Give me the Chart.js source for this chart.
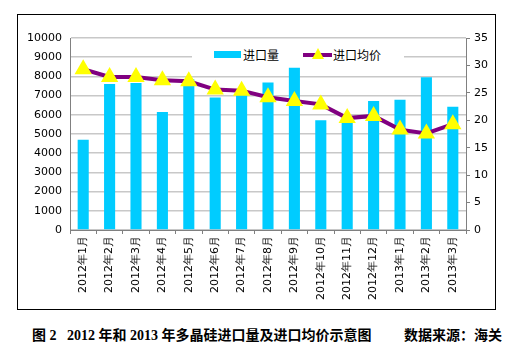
<!DOCTYPE html>
<html lang="zh">
<head>
<meta charset="UTF-8">
<title>多晶硅进口量及进口均价</title>
<script src="https://cdn.jsdelivr.net/npm/chart.js"></script>
<style>
  body { margin: 0; width: 532px; height: 352px; background: #fff; position: relative; overflow: hidden;
         font-family: "Noto Sans CJK SC", "DejaVu Sans", sans-serif; }
  .frame { position: absolute; left: 17px; top: 14px; width: 477px; height: 294px; border: 1px solid #000; }
  .frame canvas { display: block; }
  .legend { position: absolute; left: 192px; top: 46px; width: 212px; height: 17px; background: #fff;
            font-size: 12px; color: #000; display: flex; align-items: center; }
  .sw-bar { display: inline-block; width: 27px; height: 7px; background: #00CCFF; margin: 0 2px 0 22px; }
  .sw-line { display: inline-block; position: relative; width: 29px; height: 4px; background: #800080; margin: 0 1px 0 24px; }
  .sw-line:after { content: ""; position: absolute; left: 9px; top: -5px; border-left: 6px solid transparent;
                   border-right: 6px solid transparent; border-bottom: 11px solid #ffff00; }
  .caption { position: absolute; top: 324px; left: 32px; width: 470px; font-weight: bold; font-size: 14px;
             font-family: "Liberation Serif", "Noto Sans CJK SC", serif; white-space: pre; }
  .caption span.src { position: absolute; right: 0; top: 0; }
</style>
</head>
<body>
<div class="frame"><canvas id="c" width="477" height="294"></canvas></div>
<div class="legend"><span class="sw-bar"></span>进口量<span class="sw-line"></span>进口均价</div>
<div class="caption">图 2   2012 年和 2013 年多晶硅进口量及进口均价示意图<span class="src">数据来源：海关</span></div>
<script>
const months = ["2012年1月","2012年2月","2012年3月","2012年4月","2012年5月","2012年6月","2012年7月","2012年8月",
                "2012年9月","2012年10月","2012年11月","2012年12月","2013年1月","2013年2月","2013年3月"];
const importVolume = [4700, 7600, 7650, 6150, 7850, 6900, 7070, 7680, 8450, 5720, 5750, 6720, 6780, 7960, 6420];
const importPrice = [29.3, 27.9, 27.9, 27.3, 27.1, 25.6, 25.4, 24.2, 23.5, 22.9, 20.4, 20.8, 18.3, 17.6, 19.3];
const leftTicks = [0, 1000, 2000, 3000, 4000, 5000, 6000, 7000, 8000, 9000, 10000];
const rightTicks = [0, 5, 10, 15, 20, 25, 30, 35];

const tickFont = { family: "DejaVu Sans", size: 11 };

new Chart(document.getElementById('c'), {
  data: {
    labels: months,
    datasets: [
      {
        type: 'line', label: '进口均价', data: importPrice, yAxisID: 'y1',
        borderColor: '#800080', borderWidth: 4, tension: 0,
        pointStyle: 'triangle', pointRadius: 6, pointBackgroundColor: '#ffff00',
        pointBorderColor: '#ffff00', order: 0
      },
      {
        type: 'bar', label: '进口量', data: importVolume, yAxisID: 'y',
        backgroundColor: '#00CCFF', barPercentage: 0.42, categoryPercentage: 1, order: 1
      }
    ]
  },
  options: {
    responsive: false, animation: false,
    layout: { padding: { top: 23, right: 0, left: 0, bottom: 0 } },
    plugins: { legend: { display: false }, tooltip: { enabled: false } },
    scales: {
      x: {
        offset: true,
        grid: { display: true, drawOnChartArea: false, offset: true, tickLength: 4, color: '#808080' },
        border: { color: '#808080' },
        ticks: { color: '#000', font: tickFont, minRotation: 90, maxRotation: 90, autoSkip: false, padding: 2 },
        afterFit: s => { s.height = 79; }
      },
      y: {
        position: 'left', min: 0, max: 10000,
        afterBuildTicks: s => { s.ticks = leftTicks.map(v => ({ value: v })); },
        grid: { color: '#c8c8c8', lineWidth: 1.5, drawTicks: false },
        border: { color: '#808080' },
        ticks: { color: '#000', font: tickFont, padding: 8, callback: v => String(v) },
        afterFit: s => { s.width = 52; }
      },
      y1: {
        position: 'right', min: 0, max: 35,
        afterBuildTicks: s => { s.ticks = rightTicks.map(v => ({ value: v })); },
        grid: { drawOnChartArea: false, tickLength: 4, color: '#808080' },
        border: { color: '#808080' },
        ticks: { color: '#000', font: tickFont, padding: 4, callback: v => String(v) },
        afterFit: s => { s.width = 29; }
      }
    }
  }
});
</script>
</body>
</html>
